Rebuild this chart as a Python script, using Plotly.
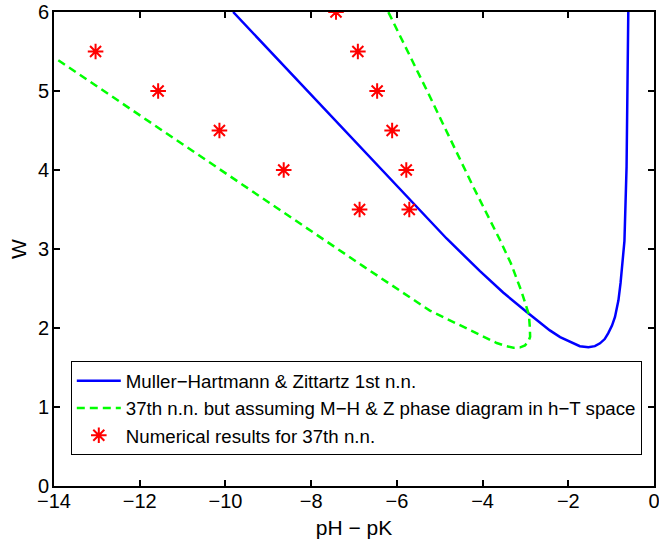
import plotly.graph_objects as go

# Blue: Muller-Hartmann & Zittartz 1st n.n.
mhz_x = [-9.82, -7.56, -6.39, -5.62, -4.84, -4.06, -3.52, -2.97, -2.43, -2.19,
         -1.88, -1.73, -1.53, -1.38, -1.26, -1.15, -1.07, -0.98, -0.91, -0.83, -0.78,
         -0.73, -0.69, -0.64, -0.615, -0.60]
mhz_w = [6.0, 4.70, 4.03, 3.58, 3.133, 2.72, 2.449, 2.203, 1.97, 1.885,
         1.806, 1.77, 1.756, 1.77, 1.806, 1.86, 1.933, 2.03, 2.14, 2.35, 2.57,
         2.86, 3.1, 4.04, 5.0, 6.0]

# Green dashed: 37th n.n. assuming M-H & Z phase diagram
nn37_x = [-13.9, -11.37, -7.68, -6.78, -5.23, -4.92, -4.06, -3.67, -3.45, -3.28, -3.12,
          -3.01, -2.93, -2.89, -2.90, -2.92, -3.09, -3.34, -3.59, -4.22, -5.23, -6.20]
nn37_w = [5.39, 4.46, 3.11, 2.78, 2.22, 2.14, 1.91, 1.81, 1.77, 1.75, 1.755,
          1.78, 1.83, 1.89, 2.03, 2.17, 2.46, 2.82, 3.11, 3.79, 4.93, 6.0]

# Red asterisks: numerical results for 37th n.n.
num_x = [-13.03, -11.57, -10.14, -8.64, -7.42, -6.91, -6.46, -6.11, -5.78, -6.87, -5.71]
num_w = [5.5, 5.0, 4.5, 4.0, 6.0, 5.5, 5.0, 4.5, 4.0, 3.5, 3.5]

x_ticks = [-14, -12, -10, -8, -6, -4, -2, 0]
y_ticks = [0, 1, 2, 3, 4, 5, 6]

FONT = "Liberation Sans, Arial, Helvetica, sans-serif"

fig = go.Figure()
fig.add_trace(go.Scatter(x=mhz_x, y=mhz_w, mode="lines",
                         line=dict(color="#0000ff", width=2.5),
                         name="Muller\u2212Hartmann & Zittartz 1st n.n."))
fig.add_trace(go.Scatter(x=nn37_x, y=nn37_w, mode="lines",
                         line=dict(color="#00ff00", width=2.5, dash="8px,5px"),
                         name="37th n.n. but assuming M\u2212H & Z phase diagram in h\u2212T space"))
fig.add_trace(go.Scatter(x=num_x, y=num_w, mode="markers",
                         marker=dict(symbol="asterisk-open", size=13, color="#ff0000",
                                     line=dict(color="#ff0000", width=2)),
                         name="Numerical results for 37th n.n."))

axis_common = dict(showgrid=False, zeroline=False, showline=True, linecolor="black",
                   linewidth=2, mirror="ticks", ticks="inside", ticklen=6, tickwidth=2,
                   tickcolor="black", automargin=False, ticklabeloverflow="allow",
                   tickfont=dict(family=FONT, size=20, color="black"))

fig.update_layout(
    width=659, height=539,
    margin=dict(l=54, r=5, t=12, b=53),
    plot_bgcolor="white", paper_bgcolor="white",
    font=dict(family=FONT, color="black"),
    xaxis=dict(range=[-14, 0], tickvals=x_ticks, ticklabelstandoff=-4, **axis_common,
               title=dict(text="pH \u2212 pK", font=dict(family=FONT, size=21), standoff=14)),
    yaxis=dict(range=[0, 6], tickvals=y_ticks, ticklabelstandoff=-1, **axis_common,
               title=dict(text="W", font=dict(family=FONT, size=21), standoff=6)),
    legend=dict(x=0.028, y=0.2637, xanchor="left", yanchor="top",
                bgcolor="white", bordercolor="black", borderwidth=1,
                font=dict(family=FONT, size=18.7, color="black"),
                tracegroupgap=0, itemwidth=44),
    showlegend=True,
)

fig.write_html("out.html", config={"displayModeBar": False},
               post_script="document.body.style.margin='0';document.body.style.overflow='hidden';")
